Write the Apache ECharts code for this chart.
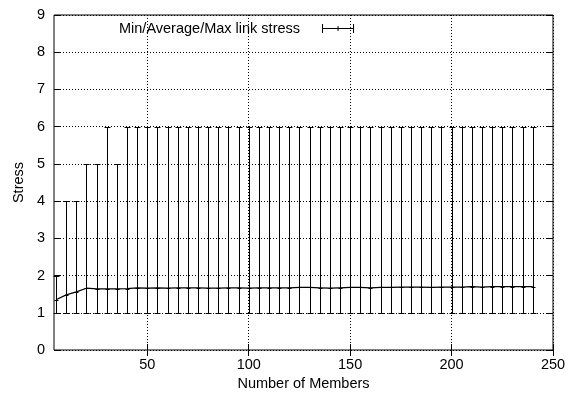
<!DOCTYPE html>
<html>
<head>
<meta charset="utf-8">
<script src="https://cdn.jsdelivr.net/npm/echarts@6/dist/echarts.min.js"></script>
<style>
html,body{margin:0;padding:0;background:#fff;}
#chart{width:571px;height:399px;}
</style>
</head>
<body>
<div id="chart"></div>
<script>
// ---- data ----
const members = [5,10,15,20,25,30,35,40,45,50,55,60,65,70,75,80,85,90,95,100,105,110,115,120,125,130,135,140,145,150,155,160,165,170,175,180,185,190,195,200,205,210,215,220,225,230,235,240];
const minStress = [1,1,1,1,1,1,1,1,1,1,1,1,1,1,1,1,1,1,1,1,1,1,1,1,1,1,1,1,1,1,1,1,1,1,1,1,1,1,1,1,1,1,1,1,1,1,1,1];
const maxStress = [2,4,4,5,5,6,5,6,6,6,6,6,6,6,6,6,6,6,6,6,6,6,6,6,6,6,6,6,6,6,6,6,6,6,6,6,6,6,6,6,6,6,6,6,6,6,6,6];
const avgStress = [1.35,1.48,1.56,1.66,1.64,1.64,1.64,1.65,1.67,1.66,1.67,1.66,1.67,1.67,1.67,1.66,1.66,1.67,1.67,1.66,1.67,1.67,1.67,1.67,1.68,1.68,1.67,1.66,1.67,1.68,1.68,1.67,1.68,1.68,1.69,1.69,1.69,1.68,1.69,1.69,1.69,1.70,1.69,1.70,1.70,1.70,1.70,1.70];
const xTicks = [50,100,150,200,250];
const seriesName = 'Min/Average/Max link stress';

const rows = members.map((m,i)=>[m, minStress[i], maxStress[i], avgStress[i]]);
const FONT = 'Liberation Sans, Arial, Helvetica, sans-serif';
const FS = 14.5;

const chart = echarts.init(document.getElementById('chart'), null, {renderer:'canvas'});

const dotted = {show:true, lineStyle:{color:'#000', width:1, type:[1,2]}};

chart.setOption({
  animation:false,
  backgroundColor:'#fff',
  textStyle:{fontFamily:FONT},
  grid:{left:54, right:18, top:15, bottom:49, containLabel:false, outerBoundsMode:'none',
        show:true, borderColor:'#000', borderWidth:1, backgroundColor:'transparent'},
  legend:{
    show:true, left:119, top:21, padding:0, align:'right', itemGap:0,
    itemWidth:32, itemHeight:9,
    icon:'path://M0,4h32v1h-32z M0,0h1v9h-1z M31,0h1v9h-1z M15.5,2h1v5h-1z',
    textStyle:{fontFamily:FONT, fontSize:FS, color:'#000', padding:[0,17,0,0]},
    itemStyle:{color:'#000'},
    data:[{name:seriesName, itemStyle:{color:'#000'}}],
    selectedMode:false
  },
  xAxis:[{
    type:'value', min:4, max:250, position:'bottom',
    name:'Number of Members', nameLocation:'middle', nameGap:26,
    nameTextStyle:{fontFamily:FONT, fontSize:FS, color:'#000'},
    axisLine:{show:false},
    axisTick:{show:true, inside:true, length:6, customValues:xTicks, lineStyle:{color:'#000'}},
    axisLabel:{show:true, customValues:xTicks, margin:7, fontFamily:FONT, fontSize:FS, color:'#000'},
    splitLine:dotted
  },{
    type:'value', min:4, max:250, position:'top',
    axisLine:{show:false},
    axisTick:{show:true, inside:true, length:6, customValues:xTicks, lineStyle:{color:'#000'}},
    axisLabel:{show:false, customValues:xTicks},
    splitLine:{show:false}
  }],
  yAxis:[{
    type:'value', min:0, max:9, interval:1, position:'left',
    name:'Stress', nameLocation:'middle', nameGap:26, nameRotate:90,
    nameTextStyle:{fontFamily:FONT, fontSize:FS, color:'#000'},
    axisLine:{show:false},
    axisTick:{show:true, inside:true, length:6, lineStyle:{color:'#000'}},
    axisLabel:{show:true, margin:9, fontFamily:FONT, fontSize:FS, color:'#000'},
    splitLine:dotted
  },{
    type:'value', min:0, max:9, interval:1, position:'right',
    axisLine:{show:false},
    axisTick:{show:true, inside:true, length:6, lineStyle:{color:'#000'}},
    axisLabel:{show:false},
    splitLine:{show:false}
  }],
  series:[{
    name:seriesName,
    type:'line',
    data:rows.map(r=>[r[0], r[3]]),
    symbol:'none',
    lineStyle:{color:'#000', width:1.2},
    itemStyle:{color:'#000'},
    z:3
  },{
    name:seriesName,
    type:'custom',
    data:rows,
    encode:{x:0, y:[1,2]},
    renderItem:function(params, api){
      const x = api.value(0), lo = api.value(1), hi = api.value(2), av = api.value(3);
      const pLo = api.coord([x, lo]);
      const pHi = api.coord([x, hi]);
      const pAv = api.coord([x, av]);
      const cx = Math.round(pLo[0]) + 0.5;
      const yLo = Math.round(pLo[1]) + 0.5, yHi = Math.round(pHi[1]) + 0.5, yAv = Math.round(pAv[1]) + 0.5;
      const w = 3;
      const st = {stroke:'#000', lineWidth:1};
      return {type:'group', children:[
        {type:'line', shape:{x1:cx, y1:yLo, x2:cx, y2:yHi}, style:st},
        {type:'line', shape:{x1:cx-w, y1:yLo, x2:cx+w, y2:yLo}, style:st},
        {type:'line', shape:{x1:cx-w, y1:yHi, x2:cx+w, y2:yHi}, style:st},
        {type:'line', shape:{x1:cx-2, y1:yAv, x2:cx+2, y2:yAv}, style:st}
      ]};
    },
    z:2
  }]
});
</script>
</body>
</html>
